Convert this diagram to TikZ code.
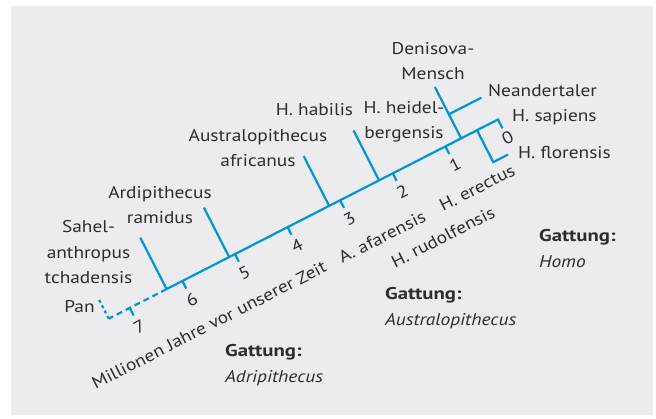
\documentclass[tikz,border=0pt]{standalone}
\usepackage{fontspec}
\setmainfont{PT Sans}[FakeStretch=1.14, BoldFeatures={FakeStretch=1.22}]
\usepackage{tikz}
\usetikzlibrary{calc}

\definecolor{treeblue}{RGB}{0,150,214}
\definecolor{panel}{RGB}{236,236,239}
\definecolor{ink}{RGB}{45,45,45}

\begin{document}
\begin{tikzpicture}[x=1pt, y=1pt,
  branch/.style={draw=treeblue, line width=2.2pt},
  taxon/.style={font=\fontsize{17}{25.5}\selectfont, text=ink, align=center, inner sep=0pt, anchor=base},
  genus/.style={font=\fontsize{17}{26}\selectfont, text=ink, align=left, inner sep=0pt, anchor=base west},
  slanted/.style={taxon, rotate=27.1, anchor=center},
  year/.style={taxon, rotate=27.1, anchor=center},
]
\fill[panel] (11,4) rectangle (653,413);
\useasboundingbox (0,0) rectangle (656,419);

% tree frame: x runs along the time axis (0 = today), y stands on it
\begin{scope}[shift={(498,299.5)}, rotate=27.1]
  \coordinate (now) at (0,0);
  \coordinate (sapend) at (0,-10);
  \coordinate (pan) at (-437.3,0);
  \coordinate (pantip) at (-437.3,23);
  \coordinate (sah) at (-372.3,0);
  \coordinate (sahtip) at (-372.3,57.7);
  \coordinate (ardi) at (-302,0);
  \coordinate (arditip) at (-302,55.5);
  \coordinate (afr) at (-189.7,0);
  \coordinate (afrtip) at (-189.7,56);
  \coordinate (hab) at (-133.6,0);
  \coordinate (habtip) at (-133.6,56);
  \coordinate (den) at (-41.4,0);
  \coordinate (dentip) at (-41.4,57.7);
  \coordinate (nea) at (-41.4,27);
  \coordinate (neatip) at (-4.7,27);
  \coordinate (flo) at (-23.6,0);
  \coordinate (flobend) at (-23.6,-35.8);
  \coordinate (flotip) at (-7,-35.8);

  \draw[branch] (sah) -- (now) -- (sapend);
  \draw[branch, dash pattern=on 6pt off 4pt] (sah) -- (pan);
  \draw[branch, dash pattern=on 3pt off 3pt] (pan) -- (pantip);
  \draw[branch] (sah) -- (sahtip);
  \draw[branch] (ardi) -- (arditip);
  \draw[branch] (afr) -- (afrtip);
  \draw[branch] (hab) -- (habtip);
  \draw[branch] (den) -- (dentip);
  \draw[branch] (nea) -- (neatip);
  \draw[branch] (flo) -- (flobend) -- (flotip);

  \foreach \k in {1,...,7} {
    \coordinate (t\k) at (-59.1*\k,0);
    \draw[branch] (t\k) -- ++(0,-8.5);
  }
  \foreach \k in {0,...,7}
    \node[year] (y\k) at (-59.1*\k,-21) {\k};
\end{scope}

% labels: multi-line nodes sit on the baseline of their last line
\node[taxon] (sahel) at (88.5,135) {Sahel-\\anthropus\\tchadensis};
\node[taxon] (panlab) at (79.5,106) {Pan};
\node[taxon] (ardilab) at (160,195) {Ardipithecus\\ramidus};
\node[taxon] (afrlab) at (258,252) {Australopithecus\\africanus};
\node[taxon] (hablab) at (314.5,303) {H. habilis};
\node[taxon] (heilab) at (404,280) {H. heidel-\\bergensis};
\node[taxon] (denlab) at (433,339) {Denisova-\\Mensch};
\node[taxon, anchor=base west] (nealab) at (488,322) {Neandertaler};
\node[taxon, anchor=base west] (saplab) at (512,297) {H. sapiens};
\node[taxon, anchor=base west] (flolab) at (518,260) {H. florensis};

\node[slanted] (erelab) at (477,231) {H. erectus};
\node[slanted] (afalab) at (382,182) {A. afarensis};
\node[slanted] (rudlab) at (443,182) {H. rudolfensis};
\node[slanted] (axislab) at (209,94) {Millionen Jahre vor unserer Zeit};

\node[genus] (homo) at (539,151) {\textbf{Gattung:}\\\textit{Homo}};
\node[genus] (austr) at (385,93) {\textbf{Gattung:}\\\textit{Australopithecus}};
\node[genus] (adri) at (225,36) {\textbf{Gattung:}\\\textit{Adripithecus}};
\end{tikzpicture}
\end{document}
